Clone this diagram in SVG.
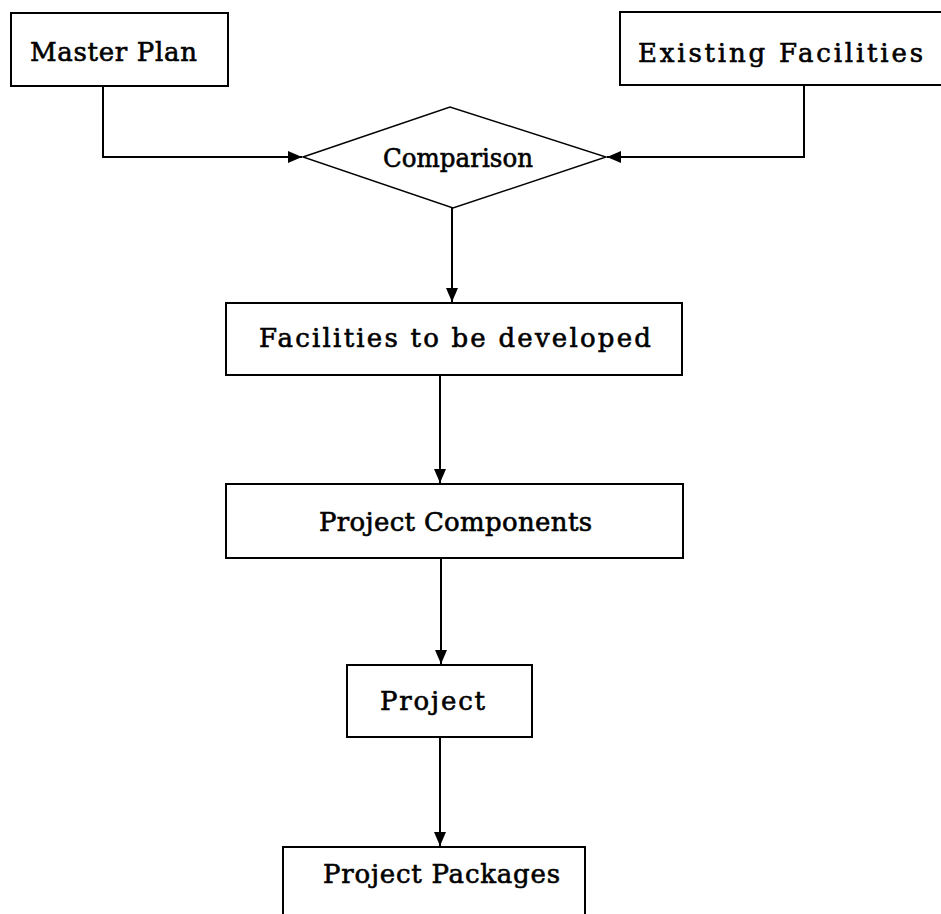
<svg xmlns="http://www.w3.org/2000/svg" width="941" height="914" viewBox="0 0 941 914">
<style>
.box{fill:#fff;stroke:#000;stroke-width:2}
.dia{fill:#fff;stroke:#000;stroke-width:1.4}
.lbl{font-family:"DejaVu Serif","Liberation Serif",serif;font-size:26px;fill:#000;stroke:#000;stroke-width:0.6}
.conn{fill:none;stroke:#000;stroke-width:2}
</style>
<defs>
<marker id="ah" markerUnits="userSpaceOnUse" markerWidth="15" markerHeight="12" refX="14" refY="6" orient="auto">
<path d="M0,0 L14,6 L0,12 z" fill="#000"/>
</marker>
</defs>
<rect width="941" height="914" fill="#fff"/>
<g id="connectors">
<path class="conn" d="M103,86 V157 H302" marker-end="url(#ah)"/>
<path class="conn" d="M804,85 V157 H607" marker-end="url(#ah)"/>
<path class="conn" d="M452,208 V302" marker-end="url(#ah)"/>
<path class="conn" d="M440,375 V483" marker-end="url(#ah)"/>
<path class="conn" d="M441,558 V664" marker-end="url(#ah)"/>
<path class="conn" d="M440,737 V846" marker-end="url(#ah)"/>
</g>
<g id="master-plan">
<rect class="box" x="11" y="13" width="217" height="73"/>
<text class="lbl" x="30" y="61" textLength="167" lengthAdjust="spacing">Master Plan</text>
</g>
<g id="existing-facilities">
<path class="box" d="M941,12 H620 V85 H941"/>
<text class="lbl" x="638" y="62" textLength="285" lengthAdjust="spacing">Existing Facilities</text>
</g>
<g id="comparison">
<polygon class="dia" points="303,157 450,107 606,157 453,208"/>
<text class="lbl" x="383" y="167" textLength="150" lengthAdjust="spacingAndGlyphs">Comparison</text>
</g>
<g id="facilities-to-be-developed">
<rect class="box" x="226" y="303" width="456" height="72"/>
<text class="lbl" x="259" y="347" textLength="392" lengthAdjust="spacing">Facilities to be developed</text>
</g>
<g id="project-components">
<rect class="box" x="226" y="484" width="457" height="74"/>
<text class="lbl" x="319" y="531" textLength="273" lengthAdjust="spacing">Project Components</text>
</g>
<g id="project">
<rect class="box" x="347" y="665" width="185" height="72"/>
<text class="lbl" x="380" y="710" textLength="105" lengthAdjust="spacing">Project</text>
</g>
<g id="project-packages">
<path class="box" d="M283,914 V847 H585 V914"/>
<text class="lbl" x="323" y="883" textLength="237" lengthAdjust="spacing">Project Packages</text>
</g>
</svg>
